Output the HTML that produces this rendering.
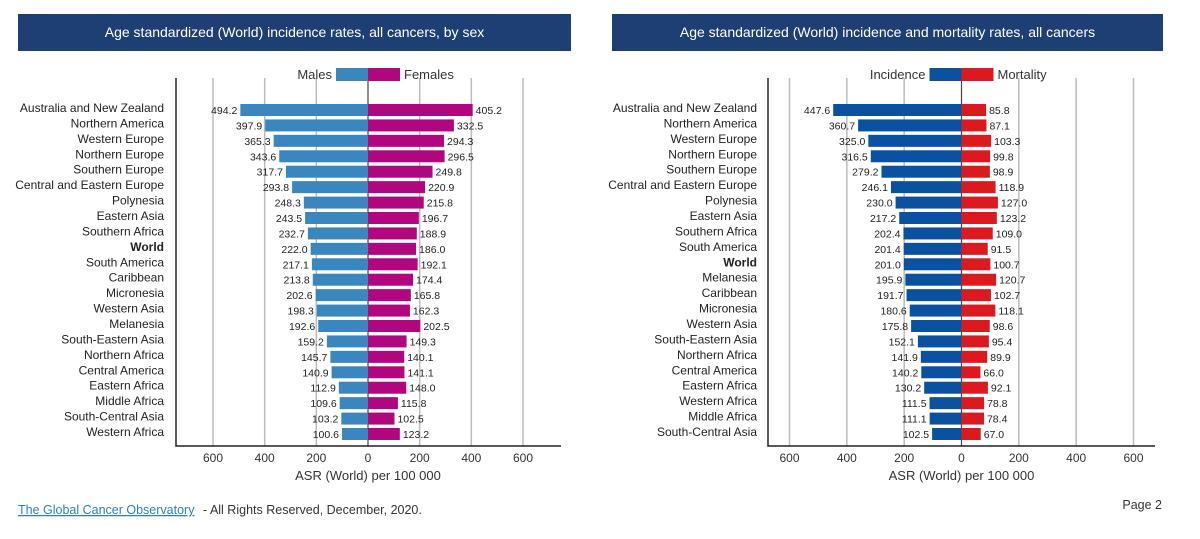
<!DOCTYPE html>
<html><head><meta charset="utf-8">
<style>
body{margin:0;background:#fff;width:1200px;height:539px;overflow:hidden;font-family:"Liberation Sans",sans-serif}
.title{position:absolute;top:14px;height:37px;background:#1e3f73;color:#fff;font-size:14px;line-height:37px;text-align:center}
</style></head><body>
<div class="title" style="left:18px;width:553px">Age standardized (World) incidence rates, all cancers, by sex</div>
<div class="title" style="left:612px;width:551px">Age standardized (World) incidence and mortality rates, all cancers</div>
<svg id="svg" width="1200" height="539" style="position:absolute;left:0;top:0">
<a href="#"><text x="18" y="514" font-size="12.5" fill="#2a7fc0" text-decoration="underline">The Global Cancer Observatory </text></a>
<text x="203" y="514" font-size="12.5" fill="#333">- All Rights Reserved, December, 2020.</text>
<text x="1162" y="509" font-size="12.5" fill="#333" text-anchor="end">Page 2</text>
</svg>
<script>
const leftCats=["Australia and New Zealand","Northern America","Western Europe","Northern Europe","Southern Europe","Central and Eastern Europe","Polynesia","Eastern Asia","Southern Africa","World","South America","Caribbean","Micronesia","Western Asia","Melanesia","South-Eastern Asia","Northern Africa","Central America","Eastern Africa","Middle Africa","South-Central Asia","Western Africa"];
const males=[494.2,397.9,365.3,343.6,317.7,293.8,248.3,243.5,232.7,222.0,217.1,213.8,202.6,198.3,192.6,159.2,145.7,140.9,112.9,109.6,103.2,100.6];
const females=[405.2,332.5,294.3,296.5,249.8,220.9,215.8,196.7,188.9,186.0,192.1,174.4,165.8,162.3,202.5,149.3,140.1,141.1,148.0,115.8,102.5,123.2];
const rightCats=["Australia and New Zealand","Northern America","Western Europe","Northern Europe","Southern Europe","Central and Eastern Europe","Polynesia","Eastern Asia","Southern Africa","South America","World","Melanesia","Caribbean","Micronesia","Western Asia","South-Eastern Asia","Northern Africa","Central America","Eastern Africa","Western Africa","Middle Africa","South-Central Asia"];
const incidence=[447.6,360.7,325.0,316.5,279.2,246.1,230.0,217.2,202.4,201.4,201.0,195.9,191.7,180.6,175.8,152.1,141.9,140.2,130.2,111.5,111.1,102.5];
const mortality=[85.8,87.1,103.3,99.8,98.9,118.9,127.0,123.2,109.0,91.5,100.7,120.7,102.7,118.1,98.6,95.4,89.9,66.0,92.1,78.8,78.4,67.0];
const ticks=[600,400,200,0,200,400,600];
const tickVals=[-600,-400,-200,0,200,400,600];
const svg=document.getElementById('svg');
const NS='http://www.w3.org/2000/svg';
function mk(tag,attrs,parent){const e=document.createElementNS(NS,tag);for(const k in attrs)e.setAttribute(k,attrs[k]);(parent||svg).appendChild(e);return e;}
function chart(o){
  const g=mk('g',{});
  
  
  const x=v=>o.zero+v*o.scale;
  const n=o.cats.length;
  const y0=110,y1=434,step=(y1-y0)/(n-1);
  const y=i=>y0+i*step;
  tickVals.forEach((t,i)=>{
    const gl=mk('line',{x1:x(t),x2:x(t),y1:o.top,y2:o.bottom,stroke:t===0?'#444':'#bbb','stroke-width':t===0?1.2:1.5},g);
    
    
    const tl=mk('text',{x:x(t),y:o.bottom+16,'font-size':12,fill:'#333','text-anchor':'middle'},g);
    tl.textContent=ticks[i];
    
    
  });
  const ax=mk('path',{d:`M${o.axisL} ${o.top}V${o.bottom}H${o.axisR}`,stroke:'#222','stroke-width':1.5,fill:'none'},g);
  
  
  const xt=mk('text',{x:o.zero,y:o.bottom+34,'font-size':13,fill:'#333','text-anchor':'middle'},g);
  xt.textContent='ASR (World) per 100 000';
  
  
  const lb1=mk('rect',{x:o.zero-32,y:68,width:32,height:13,fill:o.c1},g);
  
  
  const lb2=mk('rect',{x:o.zero,y:68,width:32,height:13,fill:o.c2},g);
  
  
  const lt1=mk('text',{x:o.zero-36,y:79,'font-size':13,fill:'#333','text-anchor':'end'},g);
  lt1.textContent=o.l1;
  
  
  const lt2=mk('text',{x:o.zero+36,y:79,'font-size':13,fill:'#333'},g);
  lt2.textContent=o.l2;
  
  
  o.cats.forEach((c,i)=>{
    const cy=y(i);
    const cl=mk('text',{x:o.labelX,y:cy+2,'font-size':12,fill:'#222','text-anchor':'end','font-weight':c==='World'?'bold':'normal'},g);
    cl.textContent=c;
    
    
    const a=o.s1[i],b=o.s2[i];
    const r1=mk('rect',{x:x(-a),y:cy-6,width:x(0)-x(-a),height:12,fill:o.c1},g);
    
    
    const r2=mk('rect',{x:x(0),y:cy-6,width:x(b)-x(0),height:12,fill:o.c2},g);
    
    
    const v1=mk('text',{x:x(-a)-3,y:cy+4,'font-size':10.5,fill:'#222','text-anchor':'end'},g);
    v1.textContent=a.toFixed(1);
    
    
    const v2=mk('text',{x:x(b)+3,y:cy+4,'font-size':10.5,fill:'#222'},g);
    v2.textContent=b.toFixed(1);
    
    
  });
}
chart({name:'incidence-by-sex-chart',cats:leftCats,s1:males,s2:females,zero:368,scale:155/600,axisL:176,axisR:561,top:78,bottom:446,labelX:164,c1:'#3a87c0',c2:'#b0067e',l1:'Males',l2:'Females'});
chart({name:'incidence-mortality-chart',cats:rightCats,s1:incidence,s2:mortality,zero:961.5,scale:172/600,axisL:768,axisR:1155,top:78,bottom:446,labelX:757,c1:'#0a51a0',c2:'#da1a1e',l1:'Incidence',l2:'Mortality'});
</script>
</body></html>
